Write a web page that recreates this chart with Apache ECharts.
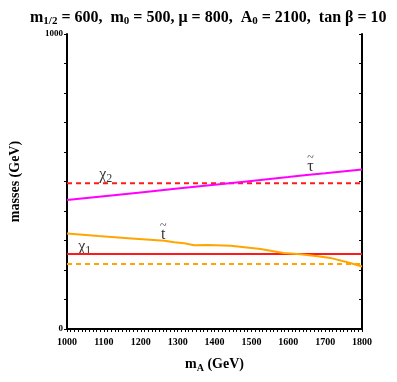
<!DOCTYPE html>
<html>
<head>
<meta charset="utf-8">
<script src="https://cdn.jsdelivr.net/npm/echarts@6/dist/echarts.min.js"></script>
<style>
  html, body { margin: 0; padding: 0; background: #fff; }
  #chart { width: 397px; height: 382px; }
</style>
</head>
<body>
<div id="chart"></div>
<script>
// data (m_A in GeV, masses in GeV)
const stauX = [1000, 1100, 1200, 1300, 1400, 1500, 1600, 1650, 1700, 1800];
const stauY = [437, 450, 463, 476, 489, 502, 515, 522, 528, 541];
const stopX = [1000, 1085, 1175, 1264, 1291, 1318, 1328, 1345, 1382, 1444, 1525, 1587, 1633, 1680, 1714, 1768, 1800];
const stopY = [324, 315, 307, 299, 294, 291, 288, 284, 285, 282, 271, 258, 253, 247, 241, 224, 212];
const chi2Mass = 494;
const chi1Mass = 254;
const stauLimit = 220;
const xRange = [1000, 1800];
const labelText = ['{c|χ}{s|2}', '{c|χ}{s|1}', '{t|~}\n{c|t}', '{t|~}\n{c|τ}'];
const labelX = [1105, 1048, 1261, 1660];
const labelY = [523, 279, 330, 560];

const serif = '"Liberation Serif", "DejaVu Serif", serif';
const pairs = (xs, ys) => xs.map((x, i) => [x, ys[i]]);
const flat = (v) => xRange.map(x => [x, v]);

const chart = echarts.init(document.getElementById('chart'));
chart.setOption({
  animation: false,
  title: {
    text: 'm{sub|1/2} = 600,  m{sub|0} = 500, μ = 800,  A{sub|0} = 2100,  tan β = 10',
    left: 25,
    top: 3,
    textStyle: {
      fontFamily: serif, fontWeight: 'bold', fontSize: 16, color: '#000',
      rich: { sub: { fontFamily: serif, fontWeight: 'bold', fontSize: 11, verticalAlign: 'bottom', padding: [8, 0, 0, 0] } }
    }
  },
  grid: { left: 65, right: 35, top: 34, bottom: 53 },
  xAxis: [{
    // ticks every 10 GeV, labels every 100
    type: 'value', min: 1000, max: 1800, interval: 10,
    name: 'm{sub|A} (GeV)', nameLocation: 'middle', nameGap: 26,
    nameTextStyle: {
      fontFamily: serif, fontWeight: 'bold', fontSize: 14, color: '#000',
      rich: { sub: { fontFamily: serif, fontWeight: 'bold', fontSize: 10, padding: [8, 0, 0, 0] } }
    },
    axisLine: { lineStyle: { color: '#000', width: 2 } },
    axisTick: { inside: false, length: 3, lineStyle: { color: '#000' } },
    axisLabel: {
      fontFamily: serif, fontWeight: 'bold', fontSize: 10, color: '#000', margin: 8,
      formatter: v => (v % 100 === 0) ? String(v) : ''
    },
    splitLine: { show: false }
  }, {
    type: 'value', position: 'top', min: 1000, max: 1800, interval: 10,
    axisLine: { lineStyle: { color: '#000', width: 2 } },
    axisTick: { inside: true, length: 3, lineStyle: { color: '#000' } },
    axisLabel: { show: false },
    splitLine: { show: false }
  }],
  yAxis: [{
    type: 'value', min: 0, max: 1000, interval: 100,
    name: 'masses (GeV)', nameLocation: 'middle', nameGap: 45,
    nameTextStyle: { fontFamily: serif, fontWeight: 'bold', fontSize: 14, color: '#000' },
    axisLine: { show: true, lineStyle: { color: '#000', width: 2 } },
    axisTick: { show: true, inside: false, length: 3, lineStyle: { color: '#000' } },
    axisLabel: {
      fontFamily: serif, fontWeight: 'bold', fontSize: 9, color: '#000', margin: 4,
      formatter: v => (v === 0 || v === 1000) ? String(v) : ''
    },
    splitLine: { show: false }
  }, {
    type: 'value', position: 'right', min: 0, max: 1000, interval: 100,
    axisLine: { show: true, lineStyle: { color: '#000', width: 2 } },
    axisTick: { show: true, inside: true, length: 3, lineStyle: { color: '#000' } },
    axisLabel: { show: false },
    splitLine: { show: false }
  }],
  series: [
    {
      type: 'line', data: flat(chi2Mass), symbol: 'none', silent: true,
      lineStyle: { color: '#ff1a1a', width: 2, type: [5, 4] }
    },
    {
      type: 'line', data: pairs(stauX, stauY), symbol: 'none', silent: true,
      lineStyle: { color: '#ff00ff', width: 2 }
    },
    {
      type: 'line', data: flat(stauLimit), symbol: 'none', silent: true,
      lineStyle: { color: '#ffa500', width: 2, type: [5, 4] }
    },
    {
      type: 'line', data: flat(chi1Mass), symbol: 'none', silent: true,
      lineStyle: { color: '#ff1a1a', width: 2 }
    },
    {
      type: 'line', data: pairs(stopX, stopY), symbol: 'none', silent: true,
      lineStyle: { color: '#ffa500', width: 2 }
    },
    {
      type: 'scatter', symbolSize: 0, silent: true,
      data: labelText.map((t, i) => ({ value: [labelX[i], labelY[i]], name: t })),
      label: {
        show: true, position: 'inside', formatter: p => p.name, color: '#000',
        rich: {
          c: { fontFamily: serif, fontSize: 16, color: '#000', lineHeight: 12 },
          s: { fontFamily: serif, fontSize: 12, color: '#000', padding: [9, 0, 0, 0] },
          t: { fontFamily: serif, fontSize: 12, color: '#000', lineHeight: 6, align: 'center' }
        }
      }
    }
  ]
});
</script>
</body>
</html>
